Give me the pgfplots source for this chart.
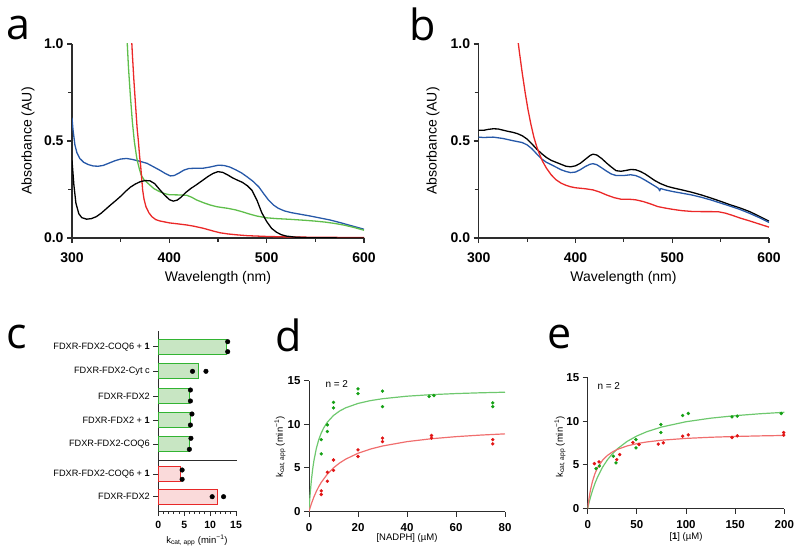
\documentclass[border=0pt]{standalone}
\usepackage{fontspec}
\setmainfont{Liberation Sans}
\newfontfamily\letterfont{Open Sans}
\usepackage{pgfplots}
\pgfplotsset{compat=1.18}
\definecolor{axgray}{RGB}{45,45,45}
\definecolor{cblue}{RGB}{38,88,168}
\definecolor{cgreen}{RGB}{95,190,75}
\definecolor{cred}{RGB}{235,40,40}
\definecolor{dotgreen}{RGB}{20,160,20}
\definecolor{fitgreen}{RGB}{110,200,110}
\definecolor{dotred}{RGB}{225,20,20}
\definecolor{fitred}{RGB}{240,110,110}
\definecolor{barfillg}{RGB}{200,230,195}
\definecolor{baredgeg}{RGB}{50,180,50}
\definecolor{barfillr}{RGB}{250,218,218}
\definecolor{baredger}{RGB}{232,40,40}
\pgfplotsset{
  gp/.style={
    scale only axis,
    axis lines*=left,
    axis line style={draw=axgray, line width=1.1pt},
    every tick/.style={draw=axgray, line width=1.1pt},
    tick align=outside,
    major tick length=5pt,
    minor tick length=4pt,
    /pgf/number format/assume math mode=true,
    /pgf/number format/1000 sep={},
    tick label style={text=black},
  },
  spec/.style={
    gp,
    width=292pt, height=194pt,
    xmin=300, xmax=600, ymin=0, ymax=1,
    xtick={300,400,500,600}, minor xtick={350,450,550},
    ytick={0,0.5,1}, minor ytick={0.25,0.75},
    tick label style={font=\bfseries\fontsize{14}{14}\selectfont},
    xticklabel style={yshift=-6pt},
    yticklabel style={/pgf/number format/.cd, fixed, fixed zerofill, precision=1},
    every axis plot/.append style={line width=1.3pt, line join=round, no marks},
  },
  kin/.style={
    gp,
    width=196pt, height=131pt,
    ymin=0, ymax=15, ytick={0,5,10,15},
    axis line style={draw=axgray, line width=1pt},
    every tick/.style={draw=axgray, line width=1pt},
    tick label style={font=\bfseries\fontsize{11.5}{11.5}\selectfont},
    xticklabel style={yshift=-3pt},
  },
}
\begin{document}
\begin{tikzpicture}
\useasboundingbox (0pt,0pt) rectangle (800pt,555pt);

% ---------------- panel a ----------------
\begin{axis}[spec, at={(72pt,317pt)}, anchor=south west]
\addplot[cblue] coordinates {(300,0.62)(301,0.56)(303,0.48)(305,0.44)(308,0.41)(312,0.39)(317,0.378)(322,0.371)(327,0.37)(332,0.374)(338,0.386)(344,0.398)(350,0.407)(356,0.41)(362,0.405)(370,0.395)(377,0.385)(383,0.369)(390,0.35)(396,0.332)(401,0.32)(405,0.322)(410,0.335)(415,0.35)(420,0.358)(428,0.36)(435,0.36)(442,0.366)(450,0.375)(456,0.374)(462,0.366)(468,0.352)(474,0.336)(480,0.315)(486,0.292)(492,0.263)(497,0.228)(502,0.195)(507,0.17)(512,0.153)(518,0.14)(525,0.131)(535,0.122)(545,0.113)(555,0.103)(565,0.093)(575,0.08)(585,0.066)(593,0.055)(600,0.045)};
\addplot[cgreen] coordinates {(356.5,1.03)(358,0.88)(360,0.73)(362,0.6)(364,0.5)(366,0.43)(367,0.40)(369,0.36)(371,0.325)(374,0.30)(378,0.282)(384,0.255)(390,0.239)(395,0.229)(400,0.223)(410,0.222)(418,0.22)(423,0.21)(428,0.196)(435,0.182)(442,0.17)(449,0.161)(460,0.153)(468,0.145)(475,0.135)(482,0.124)(490,0.113)(500,0.104)(510,0.1)(525,0.096)(540,0.091)(550,0.087)(560,0.082)(570,0.075)(580,0.066)(590,0.054)(600,0.04)};
\addplot[cred] coordinates {(361,1.05)(362,0.95)(363.5,0.82)(365.4,0.677)(367,0.56)(368.1,0.505)(369.5,0.42)(370.6,0.368)(372.6,0.247)(374,0.2)(376,0.161)(379,0.13)(382,0.11)(386,0.095)(390,0.088)(394,0.084)(400,0.078)(410,0.072)(418,0.067)(425,0.061)(435,0.05)(445,0.036)(452,0.027)(460,0.021)(470,0.016)(480,0.012)(500,0.008)(525,0.005)(550,0.004)(600,0.002)};
\addplot[black] coordinates {(300,0.40)(302,0.27)(304,0.18)(307,0.125)(310,0.105)(315,0.097)(320,0.1)(325,0.11)(330,0.128)(335,0.15)(340,0.172)(345,0.193)(350,0.215)(355,0.24)(360,0.262)(365,0.278)(370,0.29)(375,0.296)(380,0.295)(385,0.28)(390,0.25)(395,0.222)(400,0.198)(404,0.19)(408,0.195)(412,0.21)(417,0.235)(422,0.255)(428,0.275)(435,0.3)(440,0.318)(445,0.333)(450,0.342)(455,0.338)(460,0.325)(465,0.31)(470,0.298)(475,0.287)(480,0.27)(485,0.245)(490,0.195)(495,0.13)(500,0.085)(505,0.05)(510,0.03)(515,0.017)(520,0.01)(530,0.004)(545,0.001)(600,0.0)};
\end{axis}

% ---------------- panel b ----------------
\begin{axis}[spec, at={(478.7pt,317pt)}, anchor=south west, width=290.3pt]
\addplot[black] coordinates {(300,0.555)(305,0.555)(310,0.56)(315,0.563)(320,0.562)(325,0.556)(330,0.55)(335,0.545)(340,0.538)(345,0.527)(350,0.51)(355,0.485)(360,0.458)(365,0.435)(370,0.415)(375,0.4)(380,0.39)(385,0.38)(390,0.37)(395,0.367)(400,0.372)(405,0.385)(410,0.405)(415,0.425)(418,0.432)(422,0.428)(427,0.41)(432,0.387)(437,0.366)(442,0.347)(447,0.344)(452,0.348)(457,0.353)(462,0.352)(467,0.343)(472,0.33)(477,0.313)(482,0.296)(488,0.28)(495,0.266)(502,0.257)(510,0.248)(520,0.236)(530,0.222)(540,0.206)(550,0.189)(560,0.171)(570,0.155)(580,0.136)(590,0.112)(600,0.087)};
\addplot[cblue] coordinates {(300,0.52)(305,0.518)(315,0.52)(325,0.513)(335,0.502)(345,0.492)(350,0.48)(355,0.46)(360,0.433)(365,0.408)(370,0.39)(375,0.378)(380,0.365)(385,0.352)(390,0.343)(395,0.337)(400,0.34)(405,0.352)(410,0.368)(415,0.38)(418,0.383)(422,0.378)(427,0.362)(432,0.345)(437,0.33)(442,0.322)(450,0.322)(457,0.326)(462,0.322)(467,0.312)(472,0.298)(477,0.283)(482,0.268)(486,0.255)(487,0.243)(488,0.255)(492,0.249)(500,0.24)(510,0.231)(520,0.222)(530,0.21)(540,0.196)(550,0.18)(560,0.164)(570,0.147)(580,0.127)(590,0.105)(600,0.08)};
\addplot[cred] coordinates {(340.5,1.02)(342,0.96)(345,0.85)(348,0.75)(351,0.66)(354,0.585)(357,0.52)(360,0.47)(363,0.43)(366,0.395)(370,0.36)(375,0.325)(380,0.3)(385,0.283)(390,0.272)(395,0.264)(400,0.259)(410,0.254)(418,0.248)(425,0.237)(432,0.222)(440,0.208)(447,0.2)(455,0.2)(462,0.197)(470,0.188)(478,0.175)(485,0.162)(492,0.155)(500,0.148)(510,0.141)(520,0.137)(530,0.136)(540,0.136)(548,0.135)(555,0.128)(562,0.117)(570,0.103)(580,0.088)(590,0.072)(600,0.056)};
\end{axis}

% ---------------- panel c ----------------
\begin{axis}[gp, at={(158.3pt,44pt)}, anchor=south west,
  width=77.7pt, height=180.3pt,
  xmin=0, xmax=15, ymin=0, ymax=180.3,
  axis line style={draw=axgray, line width=1pt},
  every tick/.style={draw=axgray, line width=1pt},
  xtick={0,5,10,15}, minor x tick num=4, minor tick length=3pt,
  xticklabel style={font=\bfseries\fontsize{10.5}{10.5}\selectfont, yshift=-2pt},
  ytick={164.3,139.7,115,91,67,36.7,14.3},
  yticklabels={FDXR-FDX2-COQ6 + \textbf{1},FDXR-FDX2-Cyt c,FDXR-FDX2,FDXR-FDX2 + \textbf{1},FDXR-FDX2-COQ6,FDXR-FDX2-COQ6 + \textbf{1},FDXR-FDX2},
  yticklabel style={font=\fontsize{9.2}{9.2}\selectfont},
  clip=false]
\addplot[xbar, bar shift=0pt, bar width=15, fill=barfillg, draw=baredgeg, line width=1.2pt] coordinates {(13.2,164.3)(7.8,139.7)(6.05,115)(6.2,91)(6.0,67)};
\addplot[xbar, bar shift=0pt, bar width=15, fill=barfillr, draw=baredger, line width=1.2pt] coordinates {(4.25,36.7)(11.4,14.3)};
\addplot[axgray, line width=1pt, no marks] coordinates {(0,51)(15.1,51)};
\addplot[only marks, mark=*, mark size=2.3pt, black] coordinates {(13.4,169.3)(13.4,159.3)(6.6,139.7)(9.2,139.7)(6.2,121)(6.2,110)(6.5,97)(6.2,86)(6.3,72.7)(6.0,61.7)(4.6,41)(4.6,31.7)(10.4,14.3)(12.6,14.3)};
\end{axis}

% ---------------- panel d ----------------
\begin{axis}[kin, at={(309pt,43.5pt)}, anchor=south west,
  xmin=0, xmax=80, xtick={0,20,40,60,80}]
\addplot[fitgreen, line width=1.2pt, no marks] coordinates {(0,0)(0.25,1.134)(0.5,2.10)(1,3.656)(1.5,4.857)(2,5.811)(3,7.232)(4,8.239)(5,8.990)(6,9.572)(7.5,10.234)(10,10.995)(12.5,11.508)(15,11.877)(20,12.374)(25,12.693)(30,12.915)(40,13.203)(50,13.382)(60,13.504)(70,13.593)(80,13.660)};
\addplot[fitred, line width=1.2pt, no marks] coordinates {(0,0)(0.5,0.476)(1,0.909)(2,1.667)(3,2.308)(4,2.857)(5,3.333)(7.5,4.286)(10,5)(12.5,5.556)(15,6)(20,6.667)(25,7.143)(30,7.5)(40,8)(50,8.333)(60,8.571)(70,8.75)(80,8.889)};
\addplot[only marks, mark=*, mark size=1.5pt, dotgreen] coordinates {(5,8.24)(5,6.6)(7.5,9.92)(7.5,9.16)(10,12.5)(10,11.87)(20,14.05)(20,13.5)(30,13.78)(30,12.0)(49,13.17)(51,13.28)(75,12.44)(75,12.0)};
\addplot[only marks, mark=*, mark size=1.5pt, dotred] coordinates {(5,2.37)(5,1.95)(7.5,4.5)(7.5,3.47)(10,5.9)(10,4.7)(20,7.06)(20,6.3)(30,8.4)(30,8.0)(50,8.7)(50,8.4)(75,8.24)(75,7.75)};
\node[anchor=west, font=\fontsize{10}{10}\selectfont] at (axis cs:5.3,14.6) {n = 2};
\end{axis}

% ---------------- panel e ----------------
\begin{axis}[kin, at={(587.7pt,46.5pt)}, anchor=south west, width=196.6pt,
  xmin=0, xmax=200, xtick={0,50,100,150,200}]
\addplot[fitgreen, line width=1.2pt, no marks] coordinates {(0,0)(1,0.487)(2,0.936)(3,1.353)(5,2.102)(7.5,2.906)(10,3.593)(15,4.706)(20,5.568)(25,6.255)(30,6.816)(40,7.677)(50,8.306)(60,8.787)(75,9.326)(100,9.936)(125,10.341)(150,10.631)(175,10.848)(200,11.016)};
\addplot[fitred, line width=1.2pt, no marks] coordinates {(0,0)(0.5,0.47)(1,0.894)(2,1.623)(3,2.227)(5,3.172)(7.5,4.027)(10,4.654)(15,5.511)(20,6.071)(25,6.465)(30,6.757)(40,7.162)(50,7.429)(60,7.618)(75,7.817)(100,8.027)(125,8.158)(150,8.248)(175,8.314)(200,8.364)};
\addplot[only marks, mark=*, mark size=1.5pt, dotgreen] coordinates {(8.5,4.57)(11.9,4.87)(26.1,5.98)(28.8,5.22)(49.1,7.9)(49.1,6.94)(74.5,9.62)(74.5,8.7)(96.6,10.65)(102.3,10.88)(146.8,10.5)(152.2,10.58)(196.9,10.88)};
\addplot[only marks, mark=*, mark size=1.5pt, dotred] coordinates {(6.8,5.14)(11.5,5.33)(29.5,5.6)(32.5,6.17)(46,7.56)(52.2,7.33)(71.8,7.37)(76.9,7.52)(96.6,8.28)(102.3,8.43)(146.8,8.13)(152.2,8.32)(199.4,8.7)(199.4,8.4)};
\node[anchor=west, font=\fontsize{10}{10}\selectfont] at (axis cs:6.4,14.07) {n = 2};
\end{axis}

% ---------------- labels ----------------
\node[rotate=90, font=\fontsize{14}{14}\selectfont] at (28pt,414pt) {Absorbance (AU)};
\node[font=\fontsize{14}{14}\selectfont] at (218pt,277pt) {Wavelength (nm)};
\node[rotate=90, font=\fontsize{14}{14}\selectfont] at (433pt,414pt) {Absorbance (AU)};
\node[font=\fontsize{14}{14}\selectfont] at (623.5pt,277pt) {Wavelength (nm)};
\node[font=\fontsize{9.5}{9.5}\selectfont] at (197pt,14.3pt) {k\textsubscript{cat, app} (min\textsuperscript{−1})};
\node[rotate=90, font=\fontsize{9.5}{9.5}\selectfont] at (280pt,108pt) {k\textsubscript{cat, app} (min\textsuperscript{−1})};
\node[font=\fontsize{9.5}{9.5}\selectfont] at (407pt,17pt) {[NADPH] (µM)};
\node[rotate=90, font=\fontsize{9.5}{9.5}\selectfont] at (560pt,108pt) {k\textsubscript{cat, app} (min\textsuperscript{−1})};
\node[font=\fontsize{9.5}{9.5}\selectfont] at (686pt,18pt) {[\textbf{1}] (µM)};

% panel letters
\node[anchor=base west, inner sep=0pt, font=\letterfont\fontsize{43}{43}\selectfont] at (6.5pt,515pt) {a};
\node[anchor=base west, inner sep=0pt, font=\letterfont\fontsize{43}{43}\selectfont] at (409pt,514.5pt) {b};
\node[anchor=base west, inner sep=0pt, font=\letterfont\fontsize{43}{43}\selectfont] at (6pt,207pt) {c};
\node[anchor=base west, inner sep=0pt, font=\letterfont\fontsize{43}{43}\selectfont] at (275pt,204pt) {d};
\node[anchor=base west, inner sep=0pt, font=\letterfont\fontsize{43}{43}\selectfont] at (547pt,207pt) {e};
\end{tikzpicture}
\end{document}
